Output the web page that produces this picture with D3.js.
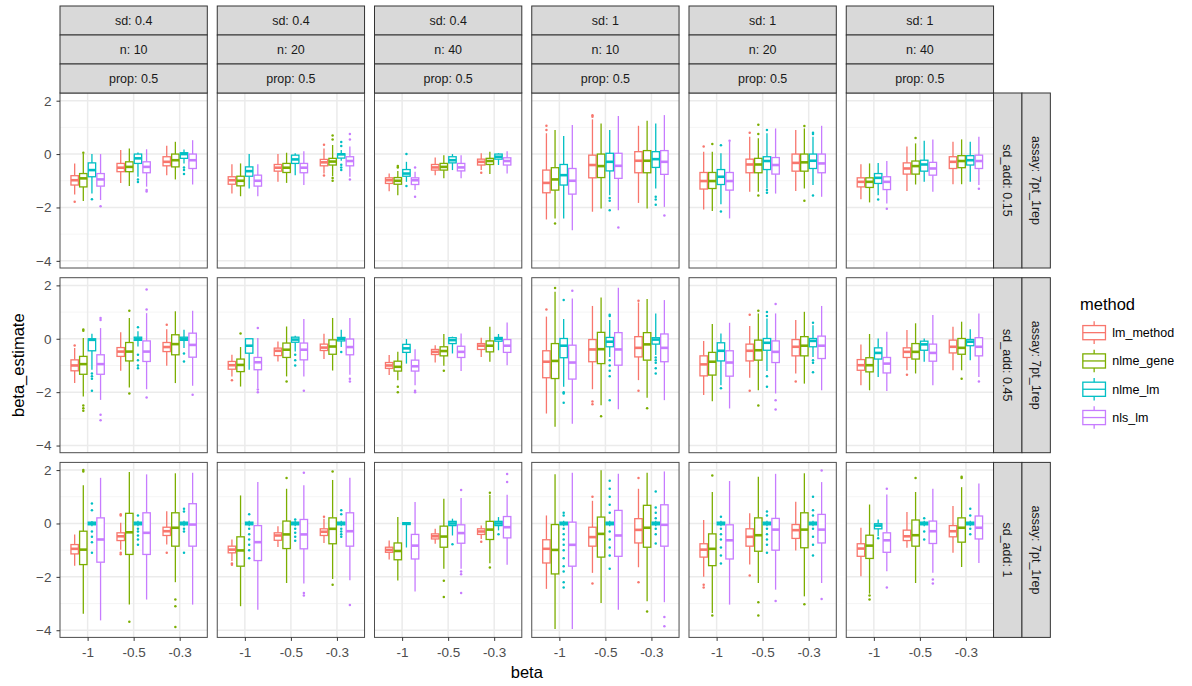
<!DOCTYPE html>
<html>
<head>
<meta charset="utf-8">
<script src="https://cdn.jsdelivr.net/npm/d3@7"></script>
<style>
  body { margin: 0; background: #fff; }
  text { font-family: 'Liberation Sans', Arial, Helvetica, sans-serif; }
</style>
</head>
<body>
<script>
'use strict'

var betaLevels = ['-1', '-0.5', '-0.3']
var methods = ['lm_method', 'nlme_gene', 'nlme_lm', 'nls_lm']
var methodColours = ['#F8766D', '#7CAE00', '#00BFC4', '#C77CFF']
var sdLevels = ['0.4', '0.4', '0.4', '1', '1', '1']
var nLevels = ['10', '20', '40', '10', '20', '40']
var propLevels = ['0.5', '0.5', '0.5', '0.5', '0.5', '0.5']
var sdAddLevels = ['0.15', '0.45', '1']
var assayLevel = '7pt_1rep'
var yTicks = [-4, -2, 0, 2]
var yMinor = [-3, -1, 1]

// every box: [lower whisker, q1, median, q3, upper whisker, outliers]
// per panel: beta -1, -0.5, -0.3; inside each: lm_method, nlme_gene, nlme_lm, nls_lm
var boxesSdAdd015 = [
  [ // sd 0.4, n 10
    [[-1.51, -1.16, -0.98, -0.81, -0.35, [-1.79]], [-1.76, -1.23, -0.91, -0.73, 0, [0.05]], [-1.48, -0.85, -0.6, -0.33, 0, [-1.69]], [-1.72, -1.2, -0.95, -0.73, 0, [-1.95]]],
    [[-1.08, -0.66, -0.51, -0.35, 0.15, []], [-1.2, -0.66, -0.48, -0.29, 0.21, []], [-0.85, -0.35, -0.16, 0, 0.06, [-0.95, -1.05]], [-1.22, -0.7, -0.48, -0.29, 0.18, [-1.35, -1.4]]],
    [[-0.79, -0.44, -0.29, -0.1, 0.31, []], [-0.95, -0.48, -0.23, 0, 0.46, []], [-0.35, -0.16, 0, 0.05, 0.17, [-0.5, -0.6, -0.75]], [-1.14, -0.54, -0.23, 0, 0.52, []]]
  ],
  [ // sd 0.4, n 20
    [[-1.48, -1.13, -0.98, -0.85, -0.38, []], [-1.58, -1.19, -1.0, -0.83, -0.35, []], [-1.29, -0.83, -0.64, -0.48, 0, []], [-1.58, -1.2, -1.0, -0.79, -0.38, []]],
    [[-1.04, -0.64, -0.51, -0.39, 0, []], [-1.08, -0.69, -0.51, -0.35, 0.05, []], [-0.79, -0.35, -0.2, -0.04, 0.03, []], [-1.16, -0.7, -0.51, -0.35, 0.11, []]],
    [[-0.73, -0.44, -0.31, -0.2, 0.21, [0.35, -0.8]], [-0.83, -0.41, -0.28, -0.16, 0.34, [0.7, 0.55, -0.9, -1.0]], [-0.25, -0.15, -0.01, 0.01, 0.15, [0.45, 0.3, -0.4, -0.5, -0.6]], [-0.85, -0.44, -0.26, -0.1, 0.28, [0.75, 0.55, -0.95]]]
  ],
  [ // sd 0.4, n 40
    [[-1.39, -1.1, -0.98, -0.89, -0.73, []], [-1.54, -1.13, -1.0, -0.88, -0.63, [-0.5, -0.45]], [-1.04, -0.83, -0.73, -0.58, -0.29, [0, -1.2]], [-1.35, -1.14, -0.98, -0.89, -0.66, [-0.5, -1.6]]],
    [[-0.79, -0.6, -0.5, -0.39, -0.13, []], [-0.91, -0.6, -0.48, -0.35, -0.04, []], [-0.6, -0.33, -0.23, -0.1, 0, []], [-0.91, -0.63, -0.5, -0.35, -0.04, []]],
    [[-0.6, -0.41, -0.29, -0.19, 0.03, [-0.7]], [-0.75, -0.39, -0.26, -0.16, 0.09, []], [-0.41, -0.19, -0.1, 0, 0.03, []], [-0.73, -0.41, -0.26, -0.14, 0.11, []]]
  ],
  [ // sd 1, n 10
    [[-2.45, -1.45, -1.08, -0.6, 0.78, [1.06, 0.9]], [-2.41, -1.35, -0.95, -0.51, 0.9, [-2.6]], [-2.41, -1.16, -0.79, -0.39, 0.68, []], [-2.85, -1.5, -1.0, -0.54, 1.09, []]],
    [[-2.16, -0.89, -0.41, -0.04, 1.3, [1.4, 1.45]], [-2.04, -0.88, -0.45, 0, 1.15, []], [-1.54, -0.63, -0.29, 0.03, 0.9, [-1.65, -1.75, -2.1]], [-2.1, -0.91, -0.44, 0.03, 1.43, [-2.75]]],
    [[-1.83, -0.7, -0.25, 0.09, 1.06, []], [-2.04, -0.7, -0.25, 0.13, 1.25, []], [-1.29, -0.5, -0.19, 0.09, 1.15, [-1.6, -1.7, -1.9]], [-1.98, -0.76, -0.29, 0.13, 1.46, [-2.3]]]
  ],
  [ // sd 1, n 20
    [[-2.08, -1.31, -1.01, -0.69, 0.09, [0.28]], [-2.13, -1.29, -1.01, -0.69, 0.09, [0.38]], [-1.88, -1.14, -0.85, -0.58, 0.03, [0.33, -2.15]], [-2.41, -1.35, -1.01, -0.69, 0.46, [0.5]]],
    [[-1.41, -0.7, -0.39, -0.19, 0.65, [0.8]], [-1.41, -0.7, -0.39, -0.16, 0.59, [0.75, 1.1, -1.55]], [-1.29, -0.58, -0.26, -0.1, 0.78, [0.9, -1.35, -1.45]], [-1.48, -0.75, -0.41, -0.13, 0.96, []]],
    [[-1.38, -0.64, -0.33, 0, 0.9, []], [-1.29, -0.64, -0.31, 0, 0.96, [1.05, -1.75]], [-1.16, -0.54, -0.25, 0, 0.65, [0.8, 0.75, -1.55]], [-1.6, -0.7, -0.35, 0, 1.06, []]]
  ],
  [ // sd 1, n 40
    [[-1.69, -1.23, -1.04, -0.89, -0.38, []], [-1.81, -1.25, -1.04, -0.89, -0.35, []], [-1.54, -1.1, -0.89, -0.73, -0.33, [-1.7]], [-1.85, -1.33, -1.04, -0.85, -0.26, [-2.05]]],
    [[-1.38, -0.75, -0.54, -0.33, 0.28, []], [-1.14, -0.75, -0.45, -0.26, 0.4, [0.6]], [-1.04, -0.64, -0.39, -0.23, 0.5, []], [-1.41, -0.79, -0.54, -0.31, 0.55, []]],
    [[-1.13, -0.54, -0.29, -0.1, 0.46, []], [-1.13, -0.51, -0.26, -0.06, 0.55, []], [-1.04, -0.41, -0.23, -0.06, 0.46, []], [-1.16, -0.54, -0.26, -0.04, 0.65, [-1.3]]]
  ]
]

var boxesSdAdd045 = [
  [
    [[-1.66, -1.2, -1.0, -0.79, -0.35, [-0.25]], [-2.16, -1.33, -0.95, -0.66, 0.03, [0.35, 0.3, -2.5, -2.6, -2.7]], [-1.16, -0.45, -0.04, 0, 0.19, [-1.3, -1.4, -1.5, -1.95]], [-2.29, -1.33, -0.95, -0.6, 0.4, [0.7, 0.78, -2.85, -3.05]]],
    [[-1.2, -0.66, -0.48, -0.33, 0.24, []], [-1.83, -0.83, -0.48, -0.14, 0.78, [1.05, -2.05]], [-0.29, -0.06, 0, 0.06, 0.28, [0.43, -0.6, -0.8, -1.0, -1.1]], [-1.89, -0.85, -0.48, -0.08, 0.96, [1.1, 1.85, -2.2]]],
    [[-1.01, -0.48, -0.31, -0.14, 0.36, [0.53]], [-1.66, -0.6, -0.2, 0.15, 1.03, []], [-0.35, -0.06, 0, 0.06, 0.34, [-0.55, -0.85]], [-1.76, -0.69, -0.23, 0.21, 1.05, [-2.1]]]
  ],
  [
    [[-1.41, -1.14, -0.99, -0.85, -0.6, [-1.55]], [-1.79, -1.23, -0.98, -0.76, -0.31, [0.2]], [-1.16, -0.54, -0.26, 0, 0, []], [-1.85, -1.16, -0.88, -0.7, 0.03, [0.4, -1.9, -2.0]]],
    [[-0.85, -0.63, -0.45, -0.35, -0.1, []], [-1.41, -0.7, -0.41, -0.16, 0.46, [-1.6]], [-0.48, -0.13, -0.03, 0.06, 0.11, [-0.6, -0.8, -1.0]], [-1.41, -0.79, -0.41, -0.16, 0.74, [-1.95]]],
    [[-0.76, -0.44, -0.33, -0.2, 0.19, []], [-1.19, -0.58, -0.29, -0.04, 0.78, []], [-0.31, -0.08, 0, 0.05, 0.34, [-0.5]], [-1.35, -0.6, -0.31, -0.01, 0.78, [-1.5, -1.6]]]
  ],
  [
    [[-1.36, -1.11, -1.0, -0.89, -0.61, []], [-1.55, -1.21, -1.05, -0.84, -0.49, [-1.8, -2.0]], [-0.93, -0.51, -0.36, -0.21, -0.01, []], [-1.74, -1.21, -1.03, -0.8, -0.39, [-1.95, -2.0]]],
    [[-0.89, -0.59, -0.49, -0.4, -0.24, []], [-1.01, -0.64, -0.46, -0.3, 0.18, [-1.2]], [-0.55, -0.18, -0.05, 0.04, 0.08, []], [-1.21, -0.7, -0.49, -0.28, 0.2, []]],
    [[-0.68, -0.4, -0.26, -0.18, 0.04, []], [-0.86, -0.49, -0.26, -0.08, 0.45, []], [-0.43, -0.09, 0, 0.05, 0.18, []], [-0.99, -0.51, -0.26, -0.03, 0.61, []]]
  ],
  [
    [[-2.8, -1.46, -0.86, -0.45, 0.83, [1.1]], [-3.3, -1.49, -0.83, -0.18, 1.76, [1.9]], [-1.8, -0.71, -0.26, 0.01, 0.74, [1.45, -2.0, -2.05, -2.4]], [-3.18, -1.51, -0.89, -0.24, 1.51, [1.8]]],
    [[-1.89, -0.86, -0.4, -0.03, 1.23, [-2.35, -2.45]], [-2.49, -0.93, -0.39, 0.24, 1.55, [-2.9]], [-0.68, -0.3, -0.11, 0.05, 0.7, [0.9, 0.85, -0.8, -1.0, -1.2, -1.4, -2.3]], [-2.64, -0.99, -0.4, 0.23, 1.91, []]],
    [[-1.55, -0.68, -0.34, 0.08, 1.36, [1.42, -1.95]], [-2.21, -0.8, -0.21, 0.23, 1.49, [-2.6]], [-0.61, -0.2, -0.03, 0.04, 0.95, [-0.7, -0.8, -0.9, -1.1, -1.3]], [-2.3, -0.86, -0.34, 0.18, 1.45, []]]
  ],
  [
    [[-2.11, -1.39, -0.96, -0.64, -0.08, []], [-2.34, -1.36, -0.86, -0.51, 0.55, []], [-1.74, -0.83, -0.45, -0.15, 0.2, [-1.85]], [-2.61, -1.4, -0.89, -0.45, 0.6, []]],
    [[-1.46, -0.83, -0.45, -0.2, 0.48, [0.9, -1.95]], [-1.93, -0.8, -0.43, -0.05, 0.95, [1.05, -2.5]], [-1.21, -0.43, -0.15, 0.01, 0.76, [1.0, 0.85, -1.4, -1.8]], [-2.05, -0.89, -0.49, -0.08, 0.95, [1.3, -2.3, -2.65]]],
    [[-1.3, -0.64, -0.3, -0.03, 0.7, [-1.6]], [-1.68, -0.64, -0.26, 0.08, 1.01, []], [-0.68, -0.3, -0.08, 0.01, 0.51, [0.6, -0.8, -0.9, -1.25]], [-1.93, -0.74, -0.26, 0.1, 1.23, []]]
  ],
  [
    [[-1.74, -1.18, -0.99, -0.78, -0.21, []], [-1.93, -1.24, -0.99, -0.71, 0.18, []], [-1.43, -0.76, -0.53, -0.34, 0.01, []], [-1.96, -1.28, -0.93, -0.7, 0.26, []]],
    [[-1.18, -0.7, -0.49, -0.34, 0.33, [-1.35]], [-1.3, -0.76, -0.49, -0.18, 0.58, []], [-0.86, -0.43, -0.21, -0.09, 0.01, []], [-1.74, -0.84, -0.53, -0.2, 0.89, []]],
    [[-1.18, -0.53, -0.3, -0.05, 0.45, []], [-1.18, -0.58, -0.34, 0.01, 0.64, [-1.5]], [-0.8, -0.26, -0.11, -0.03, 0.36, []], [-1.43, -0.64, -0.3, 0.04, 0.95, [-1.6]]]
  ]
]

var boxesSdAdd1 = [
  [
    [[-1.58, -1.14, -0.95, -0.79, -0.41, []], [-3.38, -1.54, -0.98, -0.29, 1.43, [1.95, 2.0]], [-0.1, -0.05, 0, 0.05, 0.09, [0.75, 0.5, -0.3, -0.5, -0.7, -1.1]], [-3.63, -1.45, -0.6, 0.21, 1.71, []]],
    [[-0.98, -0.64, -0.48, -0.35, 0.03, [0.3, 0.35, -1.1, -1.15]], [-3.04, -1.16, -0.33, 0.38, 1.93, [-3.68]], [-0.1, -0.05, 0, 0.05, 0.1, [0.3, -0.2, -0.3, -0.45, -0.6, -0.8]], [-2.85, -1.16, -0.35, 0.4, 1.84, []]],
    [[-0.79, -0.45, -0.29, -0.14, 0.46, [-1.1]], [-2.2, -0.85, -0.16, 0.4, 1.88, [-2.85, -3.1, -3.88]], [-0.1, -0.05, 0, 0.05, 0.1, [0.55, 0.45, -0.2, -0.3, -1.1]], [-3.04, -0.85, -0.04, 0.74, 1.9, []]]
  ],
  [
    [[-1.41, -1.1, -0.98, -0.85, -0.6, [-1.5, -1.55]], [-3.1, -1.6, -1.01, -0.5, 1.05, []], [-0.1, -0.05, 0, 0.05, 0.1, [0.35, -0.2, -0.4, -0.6, -0.8, -1.0, -1.3]], [-3.23, -1.39, -0.7, -0.08, 1.55, []]],
    [[-0.88, -0.63, -0.45, -0.35, -0.1, []], [-2.23, -0.94, -0.41, 0.09, 1.3, [1.7]], [-0.1, -0.05, 0, 0.05, 0.1, [0.15, -0.2, -0.35, -0.5, -0.65]], [-2.25, -0.95, -0.41, 0.15, 1.43, [1.9, -2.6, -2.7]]],
    [[-0.73, -0.45, -0.31, -0.2, 0.18, [0.25]], [-2.08, -0.76, -0.2, 0.21, 1.63, [1.95, -2.3]], [-0.1, -0.05, 0, 0.05, 0.1, [0.5, 0.35, -0.2, -0.3, -0.4, -0.5]], [-2.13, -0.85, -0.29, 0.4, 1.71, [-3.05]]]
  ],
  [
    [[-1.35, -1.08, -0.99, -0.89, -0.64, []], [-2.14, -1.36, -1.03, -0.73, 0.24, []], [-0.9, -0.04, 0, 0.03, 0.05, []], [-2.55, -1.33, -0.83, -0.41, 0.8, []]],
    [[-0.76, -0.58, -0.48, -0.39, -0.2, []], [-1.7, -0.89, -0.49, -0.1, 0.93, [-2.15, -2.75]], [-0.45, -0.08, 0, 0.08, 0.18, [-0.78]], [-1.7, -0.74, -0.36, -0.05, 0.95, [1.25, -1.8, -1.9, -2.6]]],
    [[-0.58, -0.41, -0.3, -0.2, -0.08, [-0.68]], [-1.49, -0.6, -0.23, 0.08, 1.08, [1.15, -1.65]], [-0.26, -0.08, 0, 0.08, 0.24, [-0.4]], [-1.55, -0.54, -0.14, 0.26, 1.08, [1.55, 1.85]]]
  ],
  [
    [[-2.45, -1.48, -0.95, -0.61, 0.3, []], [-3.95, -1.89, -0.99, -0.04, 1.84, []], [-0.1, -0.05, 0, 0.05, 0.1, [0.4, 0.3, -0.2, -0.4, -0.6, -0.8, -1.0, -1.3, -1.6, -1.8, -2.2, -2.4]], [-3.95, -1.6, -0.8, 0.05, 1.9, []]],
    [[-1.85, -0.85, -0.51, -0.14, 0.85, [1.0, -2.25]], [-2.98, -1.26, -0.39, 0.24, 1.99, []], [-0.1, -0.05, 0, 0.05, 0.1, [1.6, 1.3, 1.0, 0.7, 0.4, -0.3, -0.6, -0.9, -1.2, -1.7]], [-3.23, -1.23, -0.45, 0.49, 1.86, []]],
    [[-1.64, -0.73, -0.24, 0.18, 1.3, [1.7, -2.2]], [-2.91, -0.89, -0.16, 0.68, 1.9, [-3.3]], [-0.1, -0.05, 0, 0.05, 0.1, [1.2, 0.6, 0.4, 0.2, -0.2, -0.4, -0.75]], [-2.95, -0.85, -0.05, 0.7, 1.95, [-3.5, -3.85]]]
  ],
  [
    [[-2.0, -1.26, -0.98, -0.76, 0.13, [-2.3, -2.4]], [-3.35, -1.58, -0.95, -0.39, 1.18, [1.8, -3.45]], [-0.1, -0.05, 0, 0.05, 0.1, [0.25, -0.2, -0.4, -0.6, -0.9, -1.2, -1.5]], [-3.04, -1.33, -0.63, -0.05, 1.59, []]],
    [[-1.54, -0.85, -0.5, -0.2, 0.38, [-1.95]], [-2.23, -1.04, -0.44, 0.21, 1.75, [-2.95, -3.45]], [-0.1, -0.05, 0, 0.05, 0.1, [0.45, 0.3, -0.2, -0.4, -0.6, -0.8, -1.1]], [-2.48, -1.0, -0.23, 0.19, 1.86, [-2.9]]],
    [[-1.01, -0.56, -0.25, -0.04, 0.81, []], [-2.73, -0.91, -0.23, 0.4, 1.88, [-3.03]], [-0.1, -0.05, 0, 0.05, 0.1, [1.0, 0.5, 0.3, -0.2, -0.5, -0.8, -1.2]], [-2.23, -0.73, -0.23, 0.34, 1.55, [1.98, -2.83]]]
  ],
  [
    [[-1.98, -1.23, -0.94, -0.76, -0.16, []], [-2.63, -1.31, -0.83, -0.44, 0.71, [-2.7, -2.85]], [-0.48, -0.2, -0.08, -0.01, 0.15, [-0.55]], [-1.79, -1.08, -0.63, -0.35, 1.09, [1.3, -2.4]]],
    [[-0.91, -0.64, -0.48, -0.25, 0.43, []], [-2.23, -0.85, -0.44, 0.13, 1.18, [1.7]], [-0.1, -0.05, 0, 0.05, 0.1, [0.2, -0.3, -0.6]], [-1.85, -0.75, -0.29, 0.09, 1.3, [-2.1, -2.25]]],
    [[-1.1, -0.5, -0.29, -0.08, 0.65, []], [-1.63, -0.7, -0.16, 0.21, 1.36, [1.7, 1.75]], [-0.1, -0.05, 0, 0.05, 0.1, [0.55, 0.3, -0.2, -0.4]], [-1.48, -0.58, -0.16, 0.28, 1.5, []]]
  ]
]

var boxRows = [boxesSdAdd015, boxesSdAdd045, boxesSdAdd1]

var width = 1192, height = 686
var layout = {
  left: 60,
  top: 93,
  panelW: 147.3,
  panelH: 175,
  colStep: 157.25,
  rowStep: 184.7,
  stripH: 29,
  stripW: 28.4
}
var tickFont = '13.5px'
var stripFont = '12.5px'
var titleFont = '16.5px'

var svg = d3.select('body').append('svg')
  .attr('width', width)
  .attr('height', height)

var colour = d3.scaleOrdinal().domain(methods).range(methodColours)

var yFor = function(row) {
  var y0 = layout.top + row * layout.rowStep
  return d3.scaleLinear().domain([-4.268, 2.288]).range([y0 + layout.panelH, y0])
}
var xFor = function(col) {
  var x0 = layout.left + col * layout.colStep
  return d3.scalePoint().domain(betaLevels).range([x0, x0 + layout.panelW]).padding(0.6)
}

boxRows.forEach(function(rowData, r) {
  var y = yFor(r)
  rowData.forEach(function(panel, c) {
    var x = xFor(c)
    var x0 = x.range()[0], x1 = x.range()[1]
    var y0 = y.range()[1], y1 = y.range()[0]
    var dodge = d3.scaleBand().domain(methods)
      .range([-0.375 * x.step(), 0.375 * x.step()])
    var g = svg.append('g').attr('class', 'panel')

    g.append('rect')
      .attr('x', x0).attr('y', y0)
      .attr('width', x1 - x0).attr('height', y1 - y0)
      .attr('fill', '#fff')

    g.selectAll('line.minor').data(yMinor).enter().append('line')
      .attr('x1', x0).attr('x2', x1)
      .attr('y1', function(d) { return y(d) }).attr('y2', function(d) { return y(d) })
      .attr('stroke', '#F2F2F2').attr('stroke-width', 0.8)
    g.selectAll('line.majory').data(yTicks).enter().append('line')
      .attr('x1', x0).attr('x2', x1)
      .attr('y1', function(d) { return y(d) }).attr('y2', function(d) { return y(d) })
      .attr('stroke', '#EBEBEB').attr('stroke-width', 1.5)
    g.selectAll('line.majorx').data(betaLevels).enter().append('line')
      .attr('y1', y0).attr('y2', y1)
      .attr('x1', function(d) { return x(d) }).attr('x2', function(d) { return x(d) })
      .attr('stroke', '#EBEBEB').attr('stroke-width', 1.5)

    panel.forEach(function(group, b) {
      group.forEach(function(s, m) {
        var col = colour(methods[m])
        var left = x(betaLevels[b]) + dodge(methods[m])
        var bw = dodge.bandwidth()
        var cx = left + bw / 2
        var bg = g.append('g')
        bg.append('line')
          .attr('x1', cx).attr('x2', cx)
          .attr('y1', y(s[4])).attr('y2', y(s[3]))
          .attr('stroke', col).attr('stroke-width', 1.3)
        bg.append('line')
          .attr('x1', cx).attr('x2', cx)
          .attr('y1', y(s[1])).attr('y2', y(s[0]))
          .attr('stroke', col).attr('stroke-width', 1.3)
        bg.append('rect')
          .attr('x', left + 0.6).attr('width', bw - 1.2)
          .attr('y', y(s[3])).attr('height', Math.max(0.5, y(s[1]) - y(s[3])))
          .attr('fill', '#fff').attr('stroke', col).attr('stroke-width', 1.3)
        bg.append('line')
          .attr('x1', left + 0.6).attr('x2', left + bw - 0.6)
          .attr('y1', y(s[2])).attr('y2', y(s[2]))
          .attr('stroke', col).attr('stroke-width', 2.6)
        bg.selectAll('circle').data(s[5]).enter().append('circle')
          .attr('cx', cx).attr('cy', function(d) { return y(d) })
          .attr('r', 1.25).attr('fill', col)
      })
    })

    g.append('rect')
      .attr('x', x0).attr('y', y0)
      .attr('width', x1 - x0).attr('height', y1 - y0)
      .attr('fill', 'none').attr('stroke', '#4D4D4D').attr('stroke-width', 1)

    // axes on the outer panels only
    if (c === 0) {
      var ya = svg.append('g')
        .attr('transform', 'translate(' + x0 + ',0)')
        .call(d3.axisLeft(y).tickValues(yTicks).tickFormat(d3.format('d'))
          .tickSize(3.5).tickPadding(5))
      ya.select('.domain').remove()
      ya.selectAll('line').attr('stroke', '#333')
      ya.selectAll('text').attr('fill', '#4D4D4D').style('font-size', tickFont)
        .style('font-family', "'Liberation Sans', Arial, sans-serif")
    }
    if (r === boxRows.length - 1) {
      var xa = svg.append('g')
        .attr('transform', 'translate(0,' + y1 + ')')
        .call(d3.axisBottom(x).tickSize(3.5).tickPadding(6.5))
      xa.select('.domain').remove()
      xa.selectAll('line').attr('stroke', '#333')
      xa.selectAll('text').attr('fill', '#4D4D4D').style('font-size', tickFont)
        .style('font-family', "'Liberation Sans', Arial, sans-serif")
    }
  })
})

// top strips
var topLabels = [
  sdLevels.map(function(d) { return 'sd: ' + d }),
  nLevels.map(function(d) { return 'n: ' + d }),
  propLevels.map(function(d) { return 'prop: ' + d })
]
topLabels.forEach(function(labels, k) {
  labels.forEach(function(lab, c) {
    var sx = layout.left + c * layout.colStep
    var sy = layout.top - (3 - k) * layout.stripH
    svg.append('rect')
      .attr('x', sx).attr('y', sy)
      .attr('width', layout.panelW).attr('height', layout.stripH)
      .attr('fill', '#D9D9D9').attr('stroke', '#333').attr('stroke-width', 1)
    svg.append('text')
      .attr('x', sx + layout.panelW / 2).attr('y', sy + layout.stripH / 2)
      .attr('dy', '0.35em').attr('text-anchor', 'middle')
      .attr('fill', '#1A1A1A').style('font-size', stripFont)
      .text(lab)
  })
})

// right strips
var rightLabels = [
  sdAddLevels.map(function(d) { return 'sd_add: ' + d }),
  sdAddLevels.map(function() { return 'assay: ' + assayLevel })
]
var stripLeft = layout.left + 5 * layout.colStep + layout.panelW
rightLabels.forEach(function(labels, k) {
  labels.forEach(function(lab, r) {
    var sx = stripLeft + k * layout.stripW
    var sy = layout.top + r * layout.rowStep
    svg.append('rect')
      .attr('x', sx).attr('y', sy)
      .attr('width', layout.stripW).attr('height', layout.panelH)
      .attr('fill', '#D9D9D9').attr('stroke', '#333').attr('stroke-width', 1)
    svg.append('text')
      .attr('transform', 'translate(' + (sx + layout.stripW / 2) + ',' + (sy + layout.panelH / 2) + ') rotate(90)')
      .attr('dy', '0.35em').attr('text-anchor', 'middle')
      .attr('fill', '#1A1A1A').style('font-size', stripFont)
      .text(lab)
  })
})

// axis titles
var plotMid = (layout.left + stripLeft) / 2
svg.append('text')
  .attr('x', plotMid).attr('y', 678)
  .attr('text-anchor', 'middle').style('font-size', titleFont)
  .text('beta')
var midY = layout.top + (2 * layout.rowStep + layout.panelH) / 2
svg.append('text')
  .attr('transform', 'translate(24,' + midY + ') rotate(-90)')
  .attr('text-anchor', 'middle').style('font-size', titleFont)
  .text('beta_estimate')

// legend
var legend = svg.append('g').attr('transform', 'translate(1080,0)')
legend.append('text')
  .attr('x', 0).attr('y', 310)
  .style('font-size', titleFont)
  .text('method')
var key = 28.3
methods.forEach(function(m, i) {
  var ky = 318.5 + i * key
  var k = legend.append('g').attr('transform', 'translate(0,' + ky + ')')
  k.append('line')
    .attr('x1', key / 2).attr('x2', key / 2)
    .attr('y1', key * 0.1).attr('y2', key * 0.9)
    .attr('stroke', colour(m)).attr('stroke-width', 1.3)
  k.append('rect')
    .attr('x', key * 0.1).attr('width', key * 0.8)
    .attr('y', key * 0.25).attr('height', key * 0.5)
    .attr('fill', '#fff').attr('stroke', colour(m)).attr('stroke-width', 1.3)
  k.append('line')
    .attr('x1', key * 0.1).attr('x2', key * 0.9)
    .attr('y1', key / 2).attr('y2', key / 2)
    .attr('stroke', colour(m)).attr('stroke-width', 1.3)
  k.append('text')
    .attr('x', key + 4).attr('y', key / 2)
    .attr('dy', '0.35em')
    .style('font-size', stripFont)
    .text(m)
})
</script>
</body>
</html>
